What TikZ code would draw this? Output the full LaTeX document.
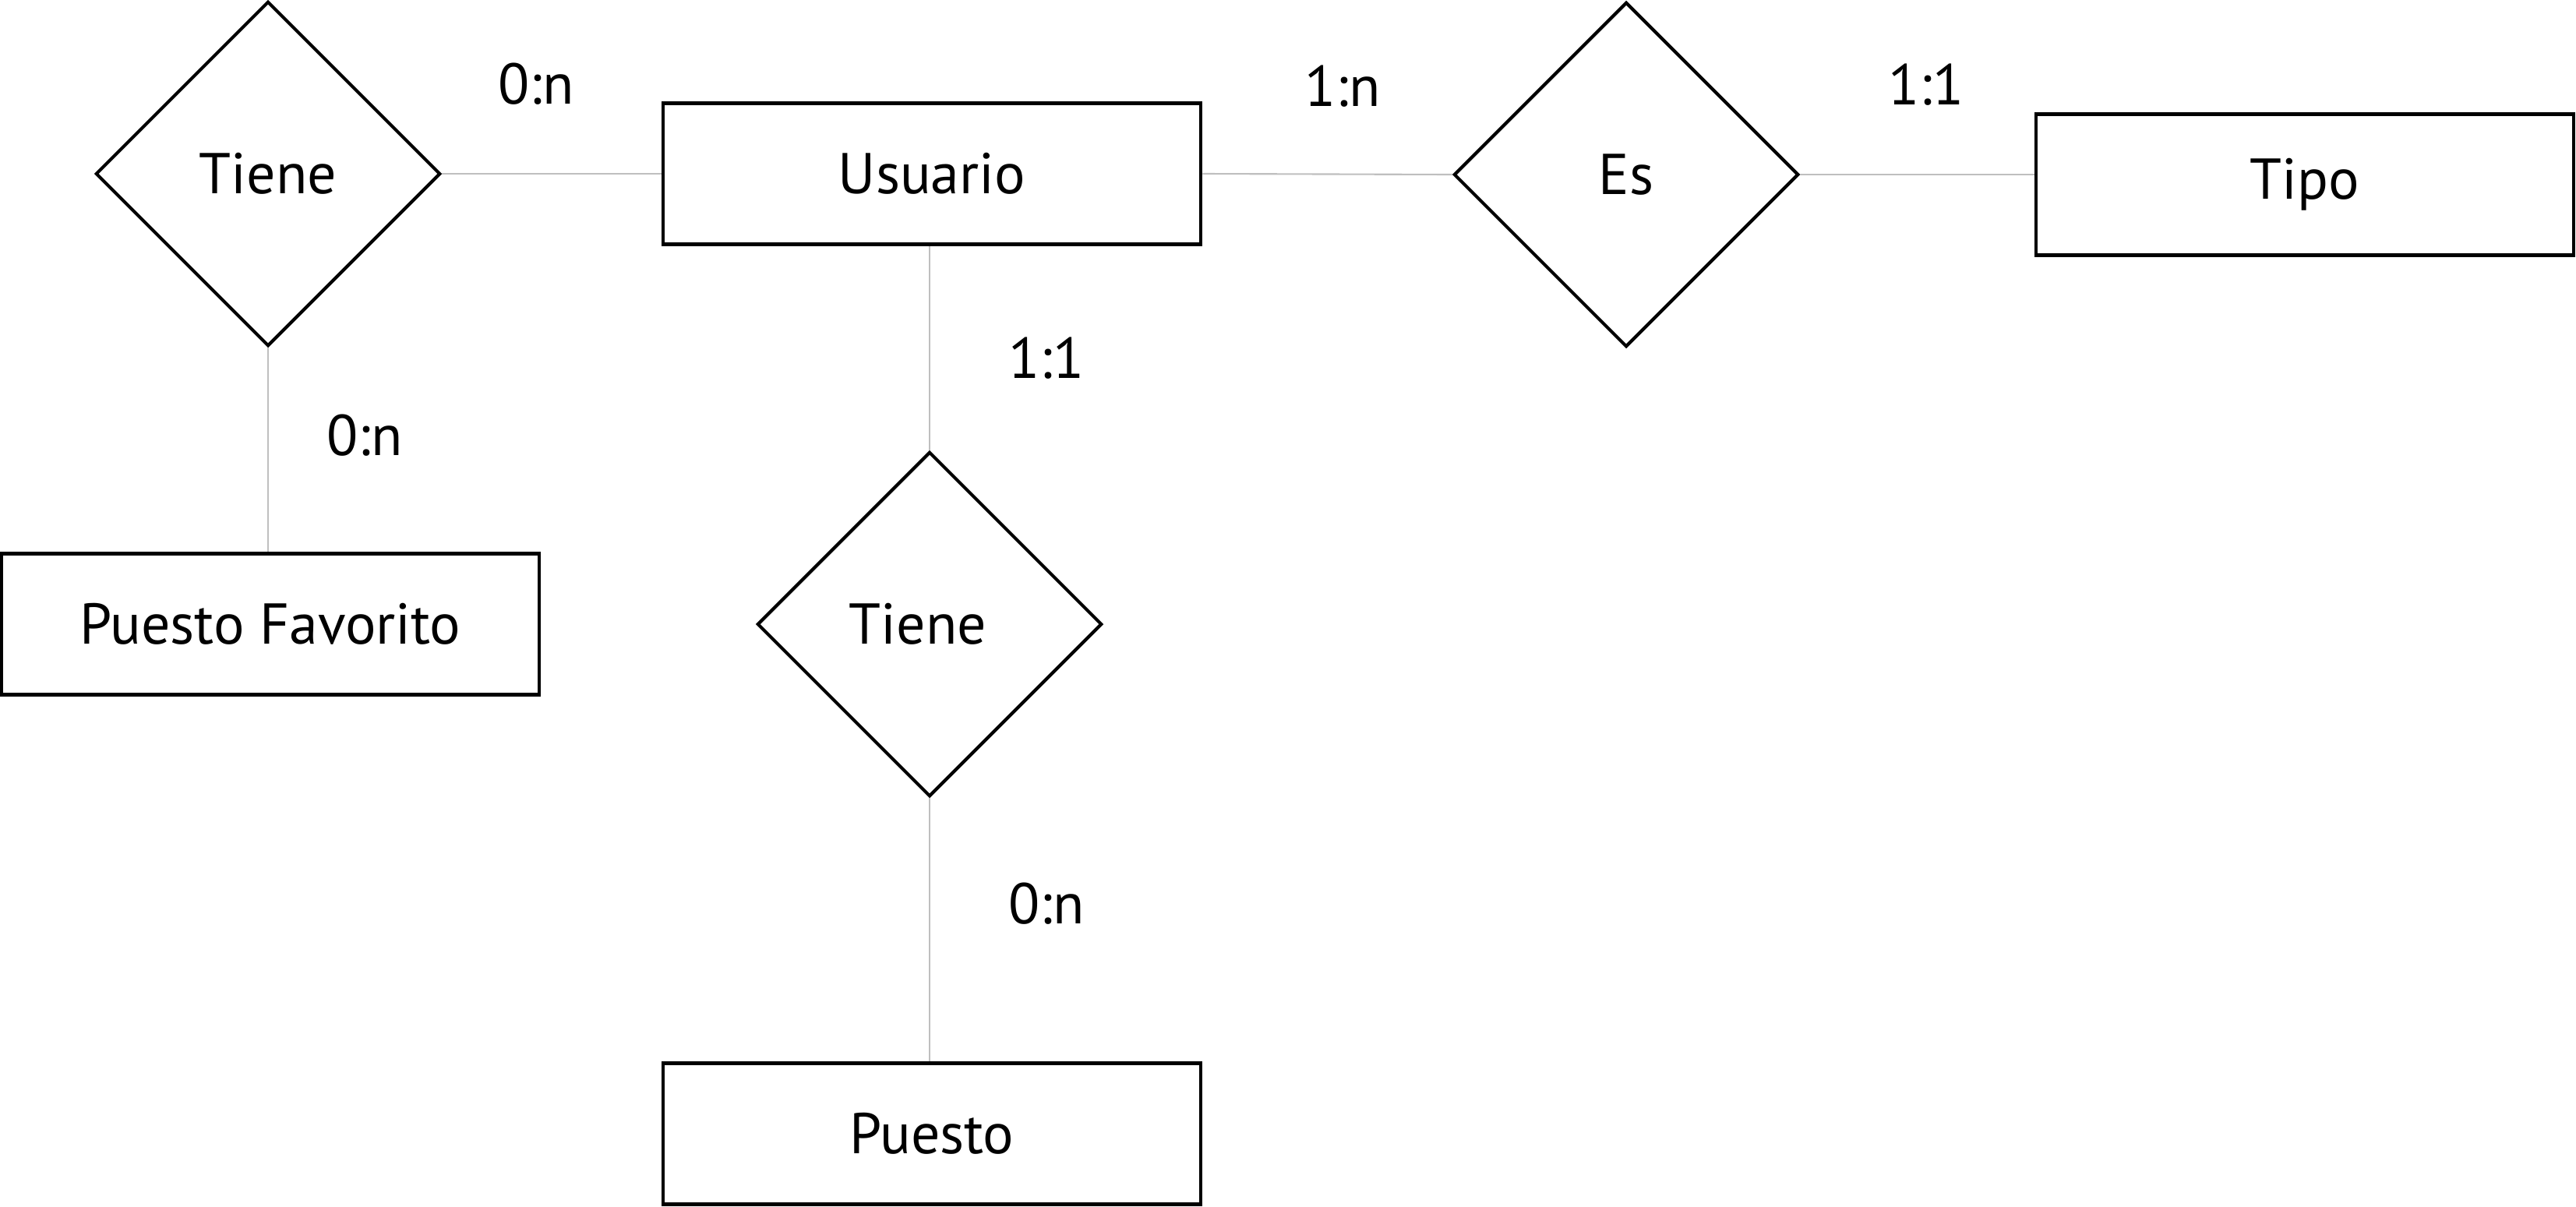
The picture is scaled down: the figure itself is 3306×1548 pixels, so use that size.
\documentclass[tikz,border=0pt]{standalone}
\usepackage{fontspec}
\setmainfont{PT Sans}
\usetikzlibrary{shapes.geometric}
\begin{document}
\begin{tikzpicture}[x=0.01cm,y=-0.01cm,
  entity/.style={draw=black,line width=1.2pt,minimum width=6.9cm,minimum height=1.81cm,inner sep=0pt,font=\fontsize{21}{24}\selectfont},
  rel/.style={diamond,draw=black,line width=1.2pt,minimum width=4.42cm,minimum height=4.42cm,inner sep=0pt,font=\fontsize{21}{24}\selectfont},
  card/.style={font=\fontsize{21}{24}\selectfont,inner sep=0pt},
  conn/.style={draw=black!25,line width=0.6pt}]
\useasboundingbox (0,0) rectangle (3306,1548);
\node[rel] (t1) at (344,223) {Tiene};
\node[entity] (us) at (1196,223) {Usuario};
\node[rel] (es) at (2087,224) {Es};
\node[entity] (ti) at (2958,237) {Tipo};
\node[entity] (pf) at (347,801) {Puesto Favorito};
\node[rel] (t2) at (1193,801) {\hspace*{-0.3cm}Tiene};
\node[entity] (pu) at (1196,1455) {Puesto};
\node[card] (c1) at (688,108) {0:n};
\node[card] (c2) at (1723,111) {1:n};
\node[card] (c3) at (2472,109) {1:1};
\node[card] (c4) at (1343,460) {1:1};
\node[card] (c5) at (468,559) {0:n};
\node[card] (c6) at (1343,1160) {0:n};
\draw[conn] (t1.east) -- (us.west |- t1.east);
\draw[conn] (us.east) -- (es.west);
\draw[conn] (es.east) -- (ti.west |- es.east);
\draw[conn] (t1.south) -- (pf.north -| t1.south);
\draw[conn] (us.south -| t2.north) -- (t2.north);
\draw[conn] (t2.south) -- (pu.north -| t2.south);
\end{tikzpicture}
\end{document}
